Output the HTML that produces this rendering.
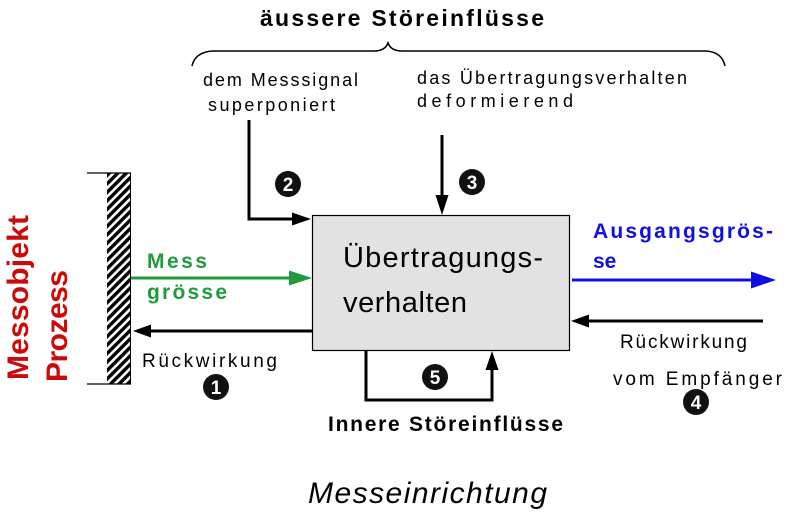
<!DOCTYPE html>
<html>
<head>
<meta charset="utf-8">
<style>
  html, body { margin: 0; padding: 0; background: #ffffff; }
  body { width: 800px; height: 515px; overflow: hidden; }
  svg { display: block; }
  text { font-family: "Liberation Sans", Arial, sans-serif; }
</style>
</head>
<body>
<svg width="800" height="515" viewBox="0 0 800 515" xmlns="http://www.w3.org/2000/svg">
  <defs>
    <pattern id="hatch" patternUnits="userSpaceOnUse" width="6" height="6" patternTransform="rotate(45)">
      <rect x="0" y="0" width="6" height="6" fill="#ffffff"/>
      <rect x="0" y="0" width="3.4" height="6" fill="#000000"/>
    </pattern>
  </defs>

  <!-- Title -->
  <text x="260" y="26" font-size="23" font-weight="bold" fill="#000" textLength="284" lengthAdjust="spacing">äussere Störeinflüsse</text>

  <!-- Brace -->
  <path d="M192,66 Q195,52 213,51 L374,51 Q385,51 388,43 Q391,51 402,51 L706,51 Q722,52 725,66" fill="none" stroke="#000" stroke-width="1.6"/>

  <!-- Upper labels -->
  <text x="203" y="86" font-size="18" fill="#000" textLength="155" lengthAdjust="spacing">dem Messsignal</text>
  <text x="208" y="111" font-size="18" fill="#000" textLength="127" lengthAdjust="spacing">superponiert</text>
  <text x="417" y="84" font-size="18" fill="#000" textLength="270" lengthAdjust="spacing">das Übertragungsverhalten</text>
  <text x="417" y="107" font-size="18" fill="#000" textLength="156" lengthAdjust="spacing">deformierend</text>

  <!-- Arrow 2 -->
  <polyline points="249,120 249,219 294,219" fill="none" stroke="#000" stroke-width="3"/>
  <polygon points="311,219 292,212.5 292,225.5" fill="#000"/>

  <!-- Arrow 3 -->
  <line x1="442" y1="135" x2="442" y2="198" stroke="#000" stroke-width="3"/>
  <polygon points="442,215 435.5,195 448.5,195" fill="#000"/>

  <!-- Circles 2, 3 -->
  <circle cx="288" cy="184" r="13" fill="#111"/>
  <text x="288" y="191" font-size="19" font-weight="bold" fill="#fff" text-anchor="middle">2</text>
  <circle cx="472" cy="182" r="13" fill="#111"/>
  <text x="472" y="189" font-size="19" font-weight="bold" fill="#fff" text-anchor="middle">3</text>

  <!-- Main box -->
  <rect x="312.5" y="215.5" width="257" height="135" fill="#e2e2e2" stroke="#000" stroke-width="1.2"/>
  <text x="343" y="267" font-size="29" fill="#000" textLength="200" lengthAdjust="spacing">Übertragungs-</text>
  <text x="343" y="312" font-size="29" fill="#000" textLength="124" lengthAdjust="spacing">verhalten</text>

  <!-- Hatched wall -->
  <rect x="107" y="173" width="23" height="211" fill="url(#hatch)"/>
  <line x1="130.5" y1="173" x2="130.5" y2="384" stroke="#000" stroke-width="1"/>
  <line x1="87" y1="173" x2="131" y2="173" stroke="#000" stroke-width="1.3"/>
  <line x1="87" y1="384" x2="131" y2="384" stroke="#000" stroke-width="1.3"/>

  <!-- Red vertical labels -->
  <text transform="translate(28,380) rotate(-90)" x="0" y="0" font-size="30" font-weight="bold" fill="#cc0a0a" textLength="165" lengthAdjust="spacing">Messobjekt</text>
  <text transform="translate(67,382) rotate(-90)" x="0" y="0" font-size="30" font-weight="bold" fill="#cc0a0a" textLength="112" lengthAdjust="spacing">Prozess</text>

  <!-- Green input arrow -->
  <line x1="131" y1="278" x2="292" y2="278" stroke="#1e9b3c" stroke-width="3"/>
  <polygon points="312,278 289,270.5 289,285.5" fill="#1e9b3c"/>
  <text x="147" y="268" font-size="21" font-weight="bold" fill="#1e9b3c" textLength="60" lengthAdjust="spacing">Mess</text>
  <text x="147" y="299" font-size="21" font-weight="bold" fill="#1e9b3c" textLength="80" lengthAdjust="spacing">grösse</text>

  <!-- Left Rückwirkung arrow -->
  <line x1="312" y1="331" x2="148" y2="331" stroke="#000" stroke-width="3"/>
  <polygon points="133,331 151,324.5 151,337.5" fill="#000"/>
  <text x="142" y="367" font-size="19" fill="#000" textLength="135" lengthAdjust="spacing">Rückwirkung</text>
  <circle cx="216" cy="387" r="13" fill="#111"/>
  <text x="216" y="394" font-size="19" font-weight="bold" fill="#fff" text-anchor="middle">1</text>

  <!-- Blue output arrow -->
  <line x1="572" y1="280" x2="755" y2="280" stroke="#1010e0" stroke-width="3"/>
  <polygon points="776,280 751,271.5 751,288.5" fill="#1010e0"/>
  <text x="593" y="238" font-size="21" font-weight="bold" fill="#1010e0" textLength="180" lengthAdjust="spacing">Ausgangsgrös-</text>
  <text x="593" y="268" font-size="21" font-weight="bold" fill="#1010e0">se</text>

  <!-- Right Rückwirkung arrow -->
  <line x1="763" y1="321" x2="586" y2="321" stroke="#000" stroke-width="3"/>
  <polygon points="571,321 589,314.5 589,327.5" fill="#000"/>
  <text x="620" y="348" font-size="19" fill="#000" textLength="127" lengthAdjust="spacing">Rückwirkung</text>
  <text x="613" y="385" font-size="19" fill="#000" textLength="169" lengthAdjust="spacing">vom Empfänger</text>
  <circle cx="696" cy="402" r="13" fill="#111"/>
  <text x="696" y="409" font-size="19" font-weight="bold" fill="#fff" text-anchor="middle">4</text>

  <!-- Inner loop 5 -->
  <polyline points="366,351 366,400 492,400 492,368" fill="none" stroke="#000" stroke-width="3"/>
  <polygon points="492,351 485.5,370 498.5,370" fill="#000"/>
  <circle cx="435" cy="377" r="13" fill="#111"/>
  <text x="435" y="384" font-size="19" font-weight="bold" fill="#fff" text-anchor="middle">5</text>

  <text x="328" y="431" font-size="21" font-weight="bold" fill="#000" textLength="235" lengthAdjust="spacing">Innere Störeinflüsse</text>

  <!-- Bottom caption -->
  <text x="308" y="503" font-size="30" font-style="italic" fill="#000" textLength="239" lengthAdjust="spacing">Messeinrichtung</text>
</svg>
</body>
</html>
